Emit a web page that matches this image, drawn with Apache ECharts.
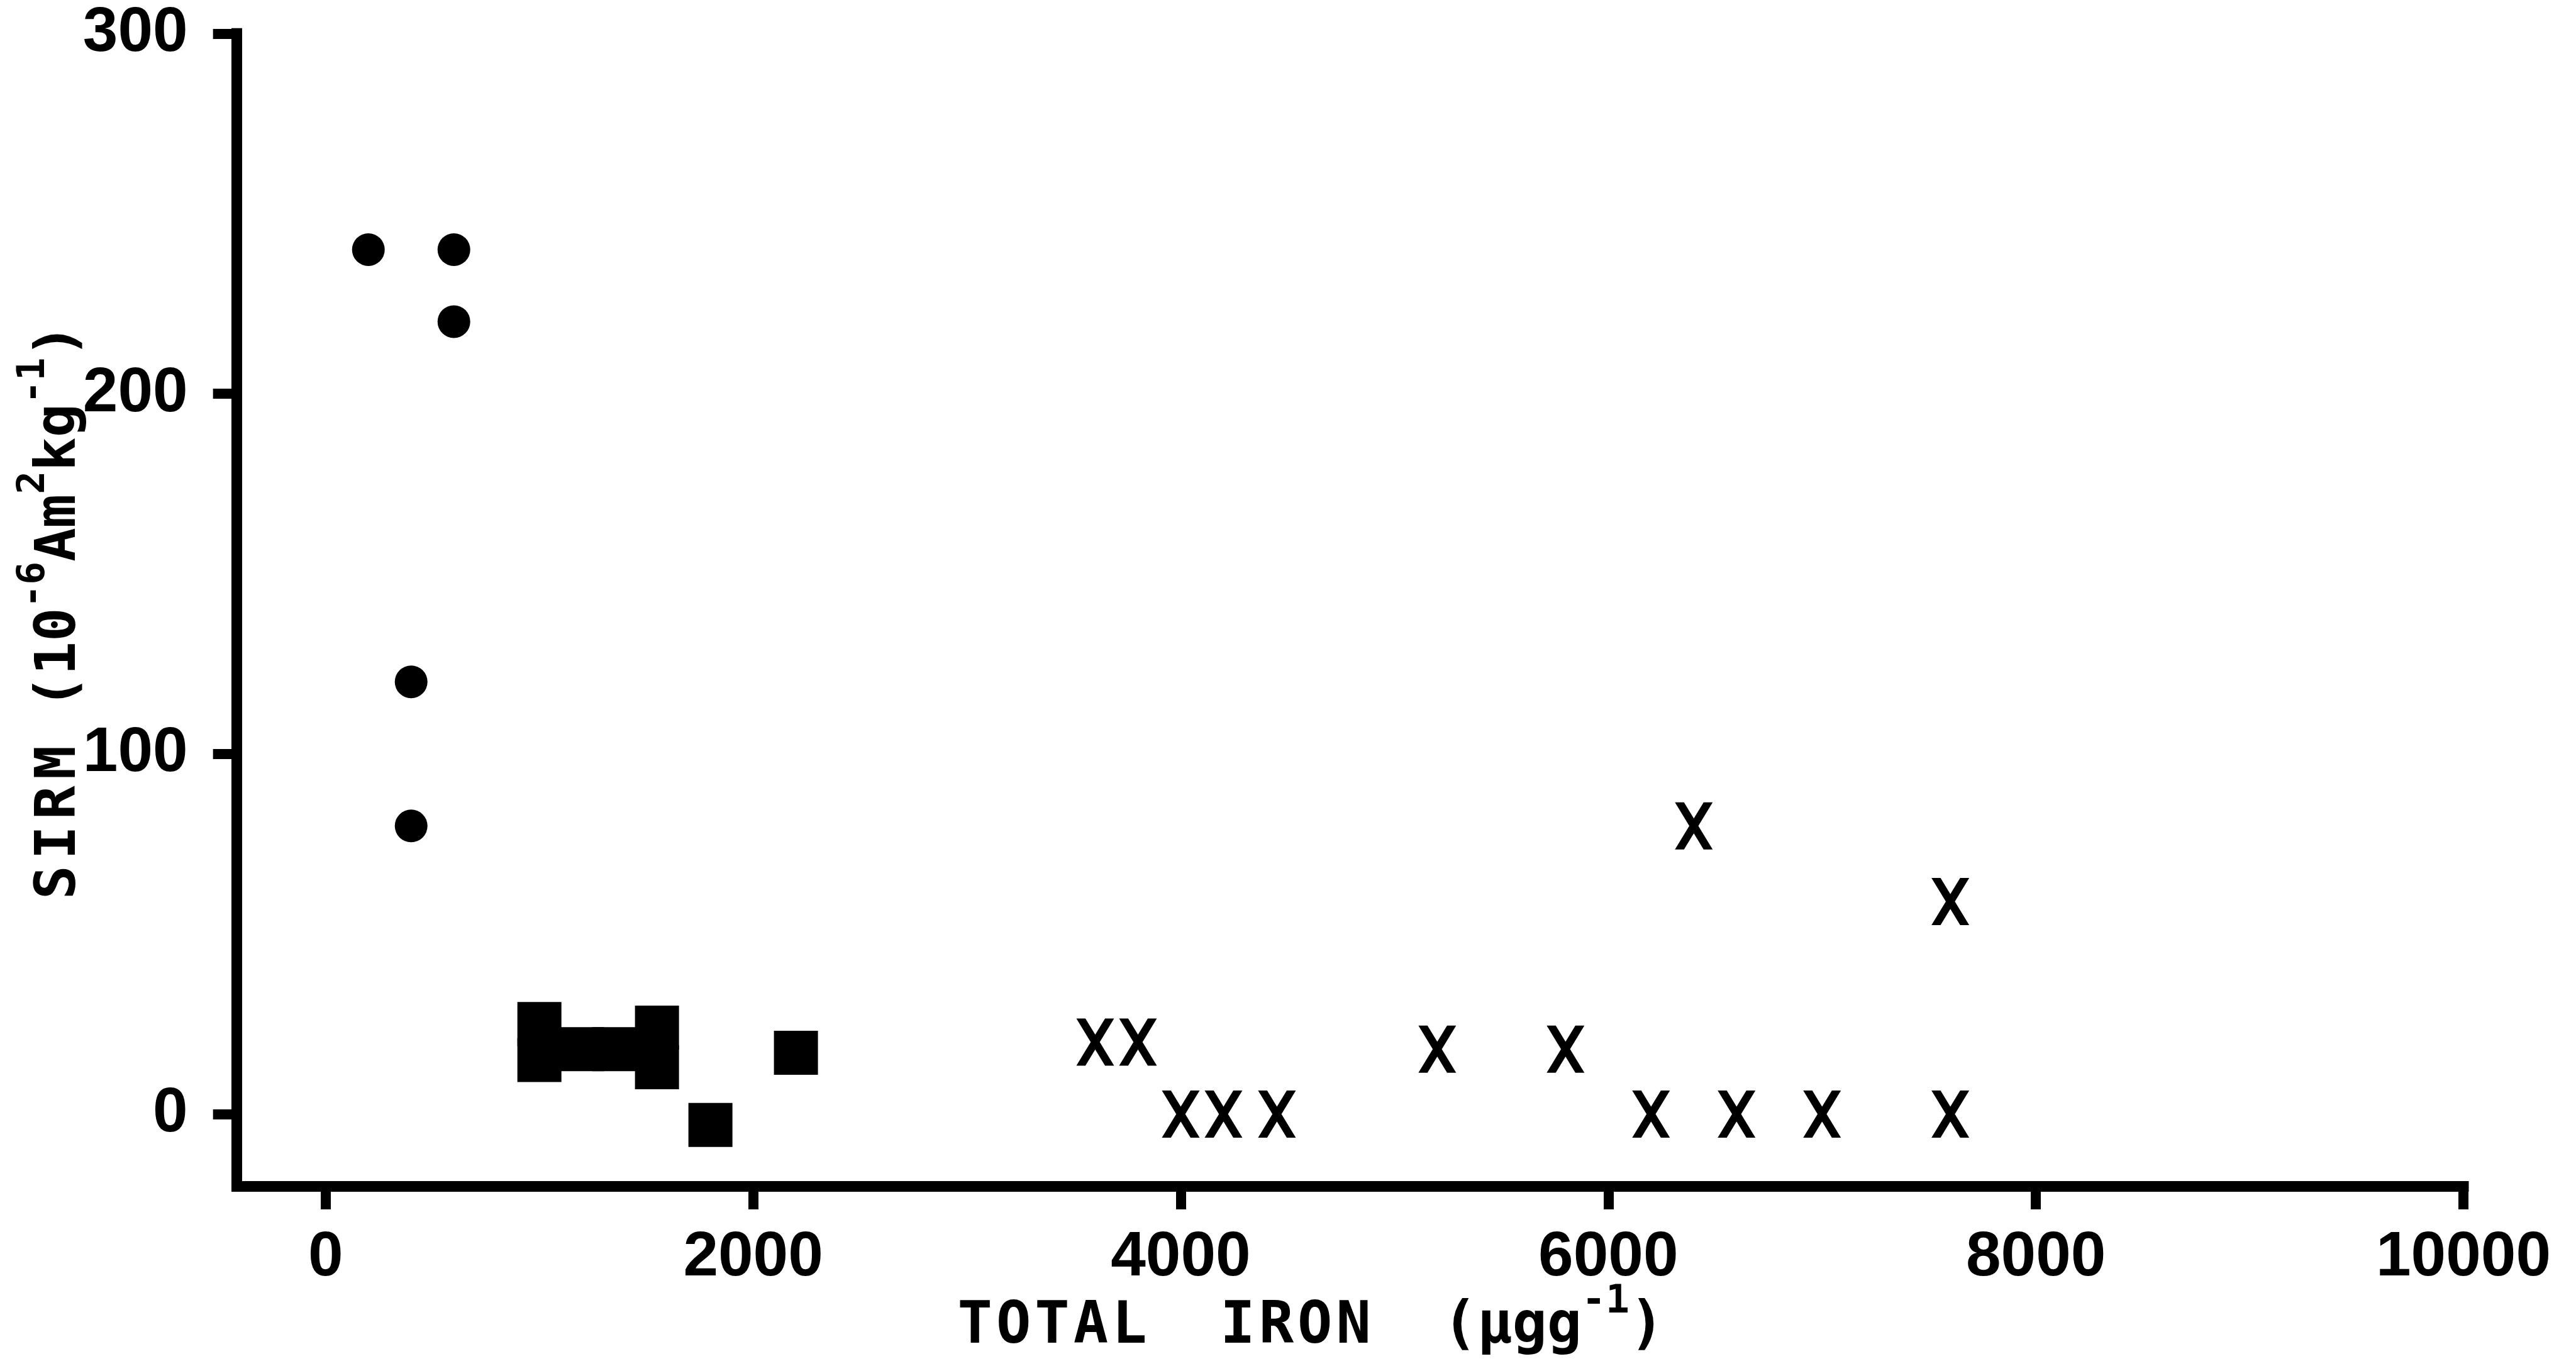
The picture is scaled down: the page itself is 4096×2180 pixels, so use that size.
<!DOCTYPE html>
<html>
<head>
<meta charset="utf-8">
<script src="https://cdn.jsdelivr.net/npm/echarts@6/dist/echarts.min.js"></script>
<style>
  html, body { margin: 0; padding: 0; background: #fff; }
  #chart { width: 4096px; height: 2180px; }
</style>
</head>
<body>
<div id="chart"></div>
<script>
// SIRM against total iron content for three groups of samples
const circleIron = [200, 600, 600, 400, 400];
const circleSirm = [240, 240, 220, 120, 80];
const squareIron = [1000, 1000, 1200, 1350, 1550, 1550, 1800, 2200];
const squareSirm = [25, 15, 18, 18, 24, 13, -3, 17];
const crossIron = [3600, 3800, 4000, 4200, 4450, 5200, 5800, 6200, 6600, 7000, 7600, 6400, 7600];
const crossSirm = [20, 20, 0, 0, 0, 18, 18, 0, 0, 0, 0, 80, 59];
const xTicks = [0, 2000, 4000, 6000, 8000, 10000];
const yTicks = [0, 100, 200, 300];

const pairs = (xs, ys) => xs.map((x, i) => [x, ys[i]]);

// typed "X" glyph as a filled path
const crossPath = 'path://M0,0 L24,0 L100,125 L76,125 Z M76,0 L100,0 L24,125 L0,125 Z';

const labelFont = {
  fontFamily: "'Liberation Sans'",
  fontWeight: 'bold',
  fontSize: 100,
  color: '#000',
  formatter: v => String(v)
};

// rich styles for the axis titles: b = plain, w = letter-spaced, s = raised superscript
function titleRich(size, pad) {
  const base = { fontFamily: 'DejaVu Sans Mono', fontWeight: 'bold', fontSize: size, lineHeight: 144, fill: '#000' };
  return {
    b: base,
    w: Object.assign({}, base, { padding: [0, pad, 0, pad] }),
    s: { fontFamily: 'DejaVu Sans Mono', fontWeight: 'bold', fontSize: Math.round(size * 0.68), lineHeight: 62, verticalAlign: 'top', fill: '#000' }
  };
}
const spaced = word => word.split('').map(c => '{w|' + c + '}').join('');
const plain = t => '{b|' + t + '}';
const sup = t => '{s|' + t + '}';

const xTitle = spaced('TOTAL') + plain('  ') + spaced('IRON') + plain('  (\u03bcgg') + sup('-1') + plain(')');
const yTitle = spaced('SIRM') + plain(' (10') + sup('-6') + plain('Am') + sup('2') + plain('kg') + sup('-1') + plain(')');

const axisLineStyle = { color: '#000', width: 17, cap: 'square' };
const tickStyle = { color: '#000', width: 16 };
const markStyle = { color: '#000', opacity: 1 };

const chart = echarts.init(document.getElementById('chart'), null, { renderer: 'canvas' });
chart.setOption({
  backgroundColor: '#fff',
  animation: false,
  grid: { left: 376.7, right: 179, top: 53.3, bottom: 294, containLabel: false, outerBoundsMode: 'none' },
  xAxis: {
    type: 'value',
    min: -415,
    max: 10000,
    axisLine: { show: true, onZero: false, lineStyle: axisLineStyle },
    axisTick: { show: true, inside: false, length: 37, customValues: xTicks, lineStyle: tickStyle },
    axisLabel: Object.assign({ margin: 64, customValues: xTicks }, labelFont),
    splitLine: { show: false }
  },
  yAxis: {
    type: 'value',
    min: -20,
    max: 300,
    axisLine: { show: true, onZero: false, lineStyle: axisLineStyle },
    axisTick: { show: true, inside: false, length: 38, customValues: yTicks, lineStyle: tickStyle },
    axisLabel: Object.assign({ margin: 78, customValues: yTicks }, labelFont),
    splitLine: { show: false }
  },
  series: [
    {
      type: 'scatter',
      data: pairs(circleIron, circleSirm),
      symbol: 'circle',
      symbolSize: 52,
      itemStyle: markStyle
    },
    {
      type: 'scatter',
      data: pairs(squareIron, squareSirm),
      symbol: 'rect',
      symbolSize: 70,
      itemStyle: markStyle
    },
    {
      type: 'scatter',
      data: pairs(crossIron, crossSirm),
      symbol: crossPath,
      symbolSize: [60, 75],
      itemStyle: markStyle
    }
  ],
  graphic: [
    {
      type: 'text',
      x: 2083,
      y: 2111,
      style: {
        text: xTitle,
        rich: titleRich(92, 3),
        fill: '#000',
        align: 'center',
        verticalAlign: 'middle',
        textAlign: 'center',
        textVerticalAlign: 'middle'
      }
    },
    {
      type: 'text',
      x: 96,
      y: 975,
      rotation: Math.PI / 2,
      style: {
        text: yTitle,
        rich: titleRich(89, 5),
        fill: '#000',
        align: 'center',
        verticalAlign: 'middle',
        textAlign: 'center',
        textVerticalAlign: 'middle'
      }
    }
  ]
});
</script>
</body>
</html>
